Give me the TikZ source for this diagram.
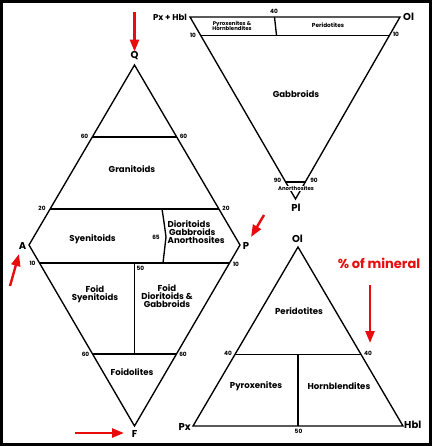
\documentclass[tikz,border=0pt]{standalone}
\usepackage{fontspec}
\setmainfont{Poppins}
\usetikzlibrary{arrows.meta}
\definecolor{arrowred}{RGB}{232,12,12}
\tikzset{
  edge/.style={line width=1.35pt, line join=miter},
  field/.style={font=\fontsize{8.6}{10}\selectfont\bfseries, align=center, inner sep=0pt},
  smallfield/.style={font=\fontsize{5.4}{6}\selectfont\bfseries, align=center, inner sep=0pt},
  num/.style={font=\fontsize{5.8}{6}\selectfont\bfseries, inner sep=0pt},
  apex/.style={font=\fontsize{10}{11}\selectfont\bfseries, inner sep=0pt},
  redarrow/.style={arrowred, line width=2.4pt, -{Triangle[length=12pt,width=9pt]}},
}
\begin{document}
\begin{tikzpicture}[x=1pt,y=-1pt]
\useasboundingbox (0,0) rectangle (432,446);
\fill[white] (0,0) rectangle (432,446);
\draw[line width=3pt] (1.5,1.5) rectangle (430.5,444.5);

% ---------- QAPF diamond ----------
\coordinate (Q) at (134.5,65);
\coordinate (A) at (29,245);
\coordinate (P) at (240,245);
\coordinate (F) at (134.5,426);
\coordinate (q60l) at (92.3,137);
\coordinate (q60r) at (176.7,137);
\coordinate (q20l) at (50.1,209);
\coordinate (q20r) at (218.9,209);
\coordinate (f10l) at (39.5,263);
\coordinate (f10r) at (229.5,263);
\coordinate (f60l) at (92.3,354);
\coordinate (f60r) at (176.7,354);
\coordinate (d20) at (162,209);
\coordinate (dmid) at (166,237);
\coordinate (d10) at (163,263);
\coordinate (f50t) at (134.5,263);
\coordinate (f50b) at (134.5,354);

\draw[edge] (Q) -- (A) -- (F) -- (P) -- cycle;
\draw[edge] (q60l) -- (q60r);
\draw[edge] (q20l) -- (q20r);
\draw[edge] (f10l) -- (f10r);
\draw[edge] (f60l) -- (f60r);
\draw[edge] (d20) .. controls (164,222) .. (dmid) .. controls (165,250) .. (d10);
\draw[edge] (f50t) -- (f50b);

\node[apex] (lQ) at (134.5,56) {Q};
\node[apex] (lA) at (22.5,246) {A};
\node[apex] (lP) at (246,246) {P};
\node[apex] (lF) at (134.5,434) {F};

\node[num] (n60a) at (84.5,136) {60};
\node[num] (n60b) at (183.5,136) {60};
\node[num] (n20a) at (42,208) {20};
\node[num] (n20b) at (226,208) {20};
\node[num] (n65) at (156,237) {65};
\node[num] (n10a) at (32.5,263) {10};
\node[num] (n10b) at (236,264) {10};
\node[num] (n50a) at (140.5,268) {50};
\node[num] (n60c) at (85.5,354) {60};
\node[num] (n60d) at (183,354) {60};

\node[field] (granit) at (132,169) {Granitoids};
\node[field] (syen) at (92.5,239) {Syenitoids};
\node[field, align=left, anchor=west] (diorit) at (167.5,232) {Dioritoids\\[-2pt]\,Gabbroids\\[-2pt]Anorthosites};
\node[field] (fsyen) at (95,294) {Foid\\[-2pt]Syenitoids};
\node[field] (fdior) at (167,296) {Foid\\[-2pt]Dioritoids \&\\[-2pt]Gabbroids};
\node[field] (foidol) at (132,372) {Foidolites};

% ---------- Gabbroid triangle (inverted) ----------
\coordinate (PH) at (190,17);
\coordinate (OlT) at (400,17);
\coordinate (Pl) at (295.5,199);
\coordinate (g10l) at (200.5,35.3);
\coordinate (g10r) at (389.5,35.3);
\coordinate (g90l) at (285,182);
\coordinate (g90r) at (306,182);
\coordinate (g40t) at (274.5,17);
\coordinate (g40b) at (276.5,35.3);

\draw[edge] (PH) -- (OlT) -- (Pl) -- cycle;
\draw[edge] (g10l) -- (g10r);
\draw[edge] (g90l) -- (g90r);
\draw[edge] (g40t) -- (g40b);

\node[apex, font=\fontsize{8.5}{9}\selectfont\bfseries, anchor=east] (lPH) at (187,17) {Px + Hbl};
\node[apex, anchor=west] (lOl1) at (403,17) {Ol};
\node[apex] (lPl) at (296,208) {Pl};
\node[num] (n40a) at (274,11.5) {40};
\node[num] (n10c) at (193,35.5) {10};
\node[num] (n10d) at (396,34.5) {10};
\node[num] (n90a) at (277.5,180) {90};
\node[num] (n90b) at (314,180) {90};
\node[smallfield, fill=white, inner sep=0.6pt] (anor) at (296,188.5) {Anorthosites};
\node[smallfield] (pyhb) at (232,26) {Pyroxenites \&\\[-1.3pt]Hornblendites};
\node[smallfield, font=\fontsize{5.8}{6}\selectfont\bfseries] (perid1) at (328,25) {Peridotites};
\node[field] (gabb) at (296,94) {Gabbroids};

% ---------- Ultramafic triangle ----------
\coordinate (Ol) at (298,247);
\coordinate (Px) at (193,426);
\coordinate (Hbl) at (403,426);
\coordinate (u40l) at (235,354.4);
\coordinate (u40r) at (361,354.4);
\coordinate (u50t) at (298,354.4);
\coordinate (u50b) at (298,426);

\draw[edge] (Ol) -- (Px) -- (Hbl) -- cycle;
\draw[edge] (u40l) -- (u40r);
\draw[edge] (u50t) -- (u50b);

\node[apex] (lOl2) at (297.5,239) {Ol};
\node[apex, anchor=east] (lPx) at (191,427) {Px};
\node[apex, anchor=west] (lHbl) at (404,425) {Hbl};
\node[num] (n40b) at (228,353) {40};
\node[num] (n40c) at (368,353) {40};
\node[num] (n50b) at (298.5,431.5) {50};
\node[field] (perid2) at (299,311) {Peridotites};
\node[field] (pyrox) at (256,386) {Pyroxenites};
\node[field] (hornb) at (339,386) {Hornblendites};

% ---------- red arrows ----------
\node[font=\fontsize{13}{14}\selectfont\bfseries, text=arrowred, inner sep=0pt] (pct) at (379,263) {\% of mineral};
\coordinate (aQ) at (134.5,12);
\coordinate (aA) at (10,286);
\coordinate (aP) at (264,215);
\coordinate (aF) at (75,433);
\coordinate (aOl) at (370,285);
\draw[redarrow] (aQ) -- (lQ.north);
\draw[redarrow] (aA) -- (19,254);
\draw[redarrow] (aP) -- (251,237);
\draw[redarrow] (aF) -- (124,433);
\draw[redarrow] (aOl) -- (370,343);
\end{tikzpicture}
\end{document}
